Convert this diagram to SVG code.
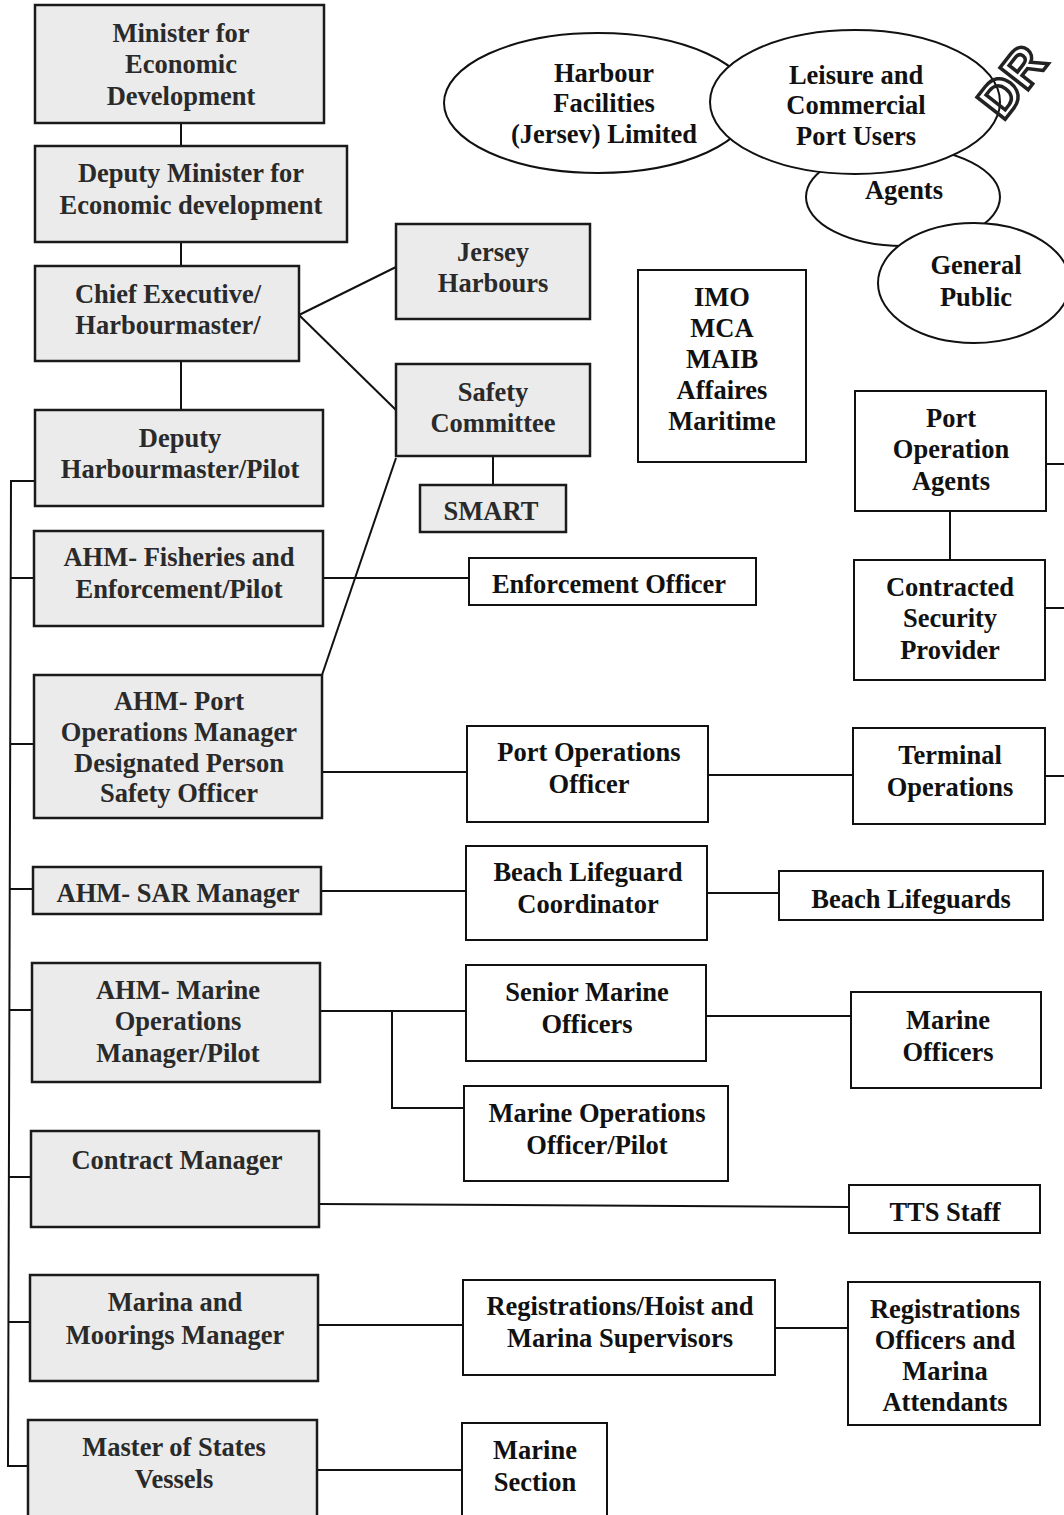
<svg xmlns="http://www.w3.org/2000/svg" width="1064" height="1515" viewBox="0 0 1064 1515">
<style>
.g rect{fill:#ebebeb;stroke:#1a1a1a;stroke-width:2.5}
.w rect{fill:#fff;stroke:#111;stroke-width:2}
.e ellipse{fill:#fff;stroke:#111;stroke-width:2}
text{font-family:"Liberation Serif","Times New Roman",serif;font-weight:bold;font-size:26.5px;text-anchor:middle;fill:#111}
.g text{fill:#2a2a2a}
.c{stroke:#111;stroke-width:2;fill:none}
</style>
<rect width="1064" height="1515" fill="#fff"/>

<g id="connectors" class="c">
<line x1="181" y1="123" x2="181" y2="146"/>
<line x1="181" y1="242" x2="181" y2="266"/>
<line x1="181" y1="361" x2="181" y2="410"/>
<line x1="299" y1="315" x2="396" y2="267"/>
<line x1="299" y1="315" x2="396" y2="410"/>
<line x1="396" y1="458" x2="322" y2="675"/>
<line x1="493" y1="456" x2="493" y2="485"/>
<polyline points="35,481 11,481 8,1466 28,1466"/>
<line x1="10" y1="578" x2="34" y2="578"/>
<line x1="10" y1="744" x2="34" y2="744"/>
<line x1="9" y1="889" x2="33" y2="889"/>
<line x1="9" y1="1010" x2="32" y2="1010"/>
<line x1="9" y1="1177" x2="31" y2="1177"/>
<line x1="8" y1="1322" x2="30" y2="1322"/>
<line x1="323" y1="578" x2="469" y2="578"/>
<line x1="950" y1="511" x2="950" y2="560"/>
<line x1="1046" y1="464" x2="1064" y2="464"/>
<line x1="1045" y1="608" x2="1064" y2="608"/>
<line x1="322" y1="772" x2="467" y2="772"/>
<line x1="708" y1="775" x2="853" y2="775"/>
<line x1="1045" y1="776" x2="1064" y2="776"/>
<line x1="321" y1="891" x2="466" y2="891"/>
<line x1="707" y1="893" x2="779" y2="893"/>
<line x1="320" y1="1011" x2="466" y2="1011"/>
<polyline points="392,1011 392,1108 464,1108"/>
<line x1="706" y1="1016" x2="851" y2="1016"/>
<line x1="319" y1="1204" x2="849" y2="1207"/>
<line x1="318" y1="1325" x2="463" y2="1325"/>
<line x1="775" y1="1328" x2="848" y2="1328"/>
<line x1="317" y1="1470" x2="462" y2="1470"/>
</g>

<g id="minister" class="g"><rect x="35" y="5" width="289" height="118"/>
<text x="181" y="42">Minister for</text><text x="181" y="73">Economic</text><text x="181" y="105">Development</text></g>
<g id="deputy-minister" class="g"><rect x="35" y="146" width="312" height="96"/>
<text x="191" y="182">Deputy Minister for</text><text x="191" y="214">Economic development</text></g>
<g id="chief-executive" class="g"><rect x="35" y="266" width="264" height="95"/>
<text x="168" y="303">Chief Executive/</text><text x="168" y="334">Harbourmaster/</text></g>
<g id="jersey-harbours" class="g"><rect x="396" y="224" width="194" height="95"/>
<text x="493" y="261">Jersey</text><text x="493" y="292">Harbours</text></g>
<g id="safety-committee" class="g"><rect x="396" y="364" width="194" height="92"/>
<text x="493" y="401">Safety</text><text x="493" y="432">Committee</text></g>
<g id="smart" class="g"><rect x="420" y="485" width="146" height="47"/>
<text x="491" y="520">SMART</text></g>
<g id="deputy-harbourmaster" class="g"><rect x="35" y="410" width="288" height="96"/>
<text x="180" y="447">Deputy</text><text x="180" y="478">Harbourmaster/Pilot</text></g>
<g id="ahm-fisheries" class="g"><rect x="34" y="531" width="289" height="95"/>
<text x="179" y="566">AHM- Fisheries and</text><text x="179" y="598">Enforcement/Pilot</text></g>
<g id="ahm-port" class="g"><rect x="34" y="675" width="288" height="143"/>
<text x="179" y="710">AHM- Port</text><text x="179" y="741">Operations Manager</text><text x="179" y="772">Designated Person</text><text x="179" y="802">Safety Officer</text></g>
<g id="ahm-sar" class="g"><rect x="33" y="867" width="288" height="47"/>
<text x="178" y="902">AHM- SAR Manager</text></g>
<g id="ahm-marine" class="g"><rect x="32" y="963" width="288" height="119"/>
<text x="178" y="999">AHM- Marine</text><text x="178" y="1030">Operations</text><text x="178" y="1062">Manager/Pilot</text></g>
<g id="contract-manager" class="g"><rect x="31" y="1131" width="288" height="96"/>
<text x="177" y="1169">Contract Manager</text></g>
<g id="marina-moorings" class="g"><rect x="30" y="1275" width="288" height="106"/>
<text x="175" y="1311">Marina and</text><text x="175" y="1344">Moorings Manager</text></g>
<g id="master-vessels" class="g"><rect x="28" y="1420" width="289" height="100"/>
<text x="174" y="1456">Master of States</text><text x="174" y="1488">Vessels</text></g>

<g id="imo" class="w"><rect x="638" y="270" width="168" height="192"/>
<text x="722" y="306">IMO</text><text x="722" y="337">MCA</text><text x="722" y="368">MAIB</text><text x="722" y="399">Affaires</text><text x="722" y="430">Maritime</text></g>
<g id="enforcement-officer" class="w"><rect x="469" y="558" width="287" height="47"/>
<text x="609" y="593">Enforcement Officer</text></g>
<g id="port-operation-agents" class="w"><rect x="855" y="391" width="191" height="120"/>
<text x="951" y="427">Port</text><text x="951" y="458">Operation</text><text x="951" y="490">Agents</text></g>
<g id="contracted-security" class="w"><rect x="854" y="560" width="191" height="120"/>
<text x="950" y="596">Contracted</text><text x="950" y="627">Security</text><text x="950" y="659">Provider</text></g>
<g id="port-operations-officer" class="w"><rect x="467" y="726" width="241" height="96"/>
<text x="589" y="761">Port Operations</text><text x="589" y="793">Officer</text></g>
<g id="terminal-operations" class="w"><rect x="853" y="728" width="192" height="96"/>
<text x="950" y="764">Terminal</text><text x="950" y="796">Operations</text></g>
<g id="beach-coordinator" class="w"><rect x="466" y="846" width="241" height="94"/>
<text x="588" y="881">Beach Lifeguard</text><text x="588" y="913">Coordinator</text></g>
<g id="beach-lifeguards" class="w"><rect x="779" y="871" width="264" height="49"/>
<text x="911" y="908">Beach Lifeguards</text></g>
<g id="senior-marine" class="w"><rect x="466" y="965" width="240" height="96"/>
<text x="587" y="1001">Senior Marine</text><text x="587" y="1033">Officers</text></g>
<g id="marine-ops-officer" class="w"><rect x="464" y="1086" width="264" height="95"/>
<text x="597" y="1122">Marine Operations</text><text x="597" y="1154">Officer/Pilot</text></g>
<g id="marine-officers" class="w"><rect x="851" y="992" width="190" height="96"/>
<text x="948" y="1029">Marine</text><text x="948" y="1061">Officers</text></g>
<g id="tts-staff" class="w"><rect x="849" y="1185" width="191" height="48"/>
<text x="945" y="1221">TTS Staff</text></g>
<g id="registrations-supervisors" class="w"><rect x="463" y="1280" width="312" height="95"/>
<text x="620" y="1315">Registrations/Hoist and</text><text x="620" y="1347">Marina Supervisors</text></g>
<g id="registrations-officers" class="w"><rect x="848" y="1282" width="192" height="143"/>
<text x="945" y="1318">Registrations</text><text x="945" y="1349">Officers and</text><text x="945" y="1380">Marina</text><text x="945" y="1411">Attendants</text></g>
<g id="marine-section" class="w"><rect x="462" y="1423" width="145" height="97"/>
<text x="535" y="1459">Marine</text><text x="535" y="1491">Section</text></g>

<g id="agents" class="e"><ellipse cx="903" cy="197" rx="97" ry="49"/><text x="904" y="199">Agents</text></g>
<g id="harbour-facilities" class="e"><ellipse cx="598" cy="103" rx="154" ry="70"/>
<text x="604" y="82">Harbour</text><text x="604" y="112">Facilities</text><text x="604" y="143">(Jersev) Limited</text></g>
<g id="leisure-users" class="e"><ellipse cx="855" cy="102" rx="145" ry="72"/>
<text x="856" y="84">Leisure and</text><text x="856" y="114">Commercial</text><text x="856" y="145">Port Users</text></g>
<g id="general-public" class="e"><ellipse cx="974" cy="283" rx="96" ry="60"/>
<text x="976" y="274">General</text><text x="976" y="306">Public</text></g>

<text x="1003" y="122" transform="rotate(-52 1003 122)" style="font-family:'Liberation Sans',Arial,sans-serif;font-size:52px;fill:none;stroke:#222;stroke-width:3.5;text-anchor:start">DR</text>
</svg>
